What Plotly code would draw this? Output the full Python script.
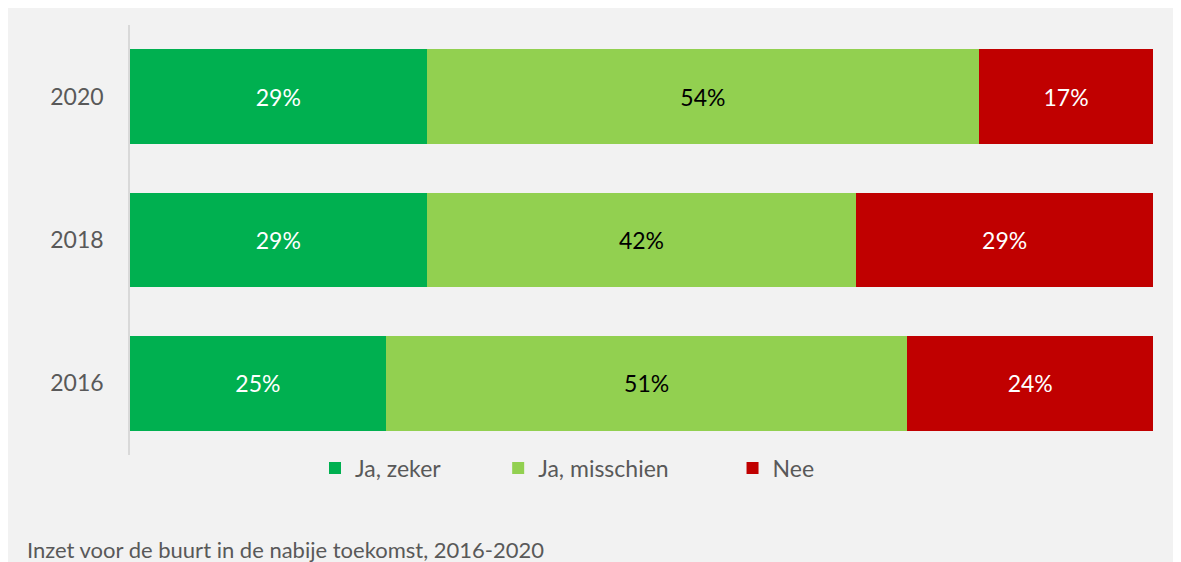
import plotly.graph_objects as go

years = ["2016", "2018", "2020"]
ja_zeker = [25, 29, 29]
ja_misschien = [51, 42, 54]
nee = [24, 29, 17]
series_names = ["Ja, zeker", "Ja, misschien", "Nee"]
legend_pad = [9, 10, 0]
colors = ["#00b050", "#92d050", "#c00000"]
text_colors = ["white", "black", "white"]

W, H = 1173, 554
ml, mr, mt, mb = 122, 28, 17, 107
pw, ph = W - ml - mr, H - mt - mb
FONT = "Lato"

fig = go.Figure()
for name, pad, vals, c, tc in zip(series_names, legend_pad, [ja_zeker, ja_misschien, nee], colors, text_colors):
    fig.add_trace(go.Bar(
        y=years, x=vals, name=name + "\u00a0" * pad, orientation="h",
        marker=dict(color=c, line=dict(width=0)),
        text=[f"{v}%" for v in vals], textposition="inside", insidetextanchor="middle",
        textfont=dict(color=tc, size=23, family=FONT),
        width=0.66, hoverinfo="skip",
    ))

def px_x(p):
    return (p - ml) / pw

def px_y(p):
    return (H - mb - p) / ph

fig.add_annotation(text="Inzet voor de buurt in de nabije toekomst, 2016-2020",
                   xref="paper", yref="paper", x=px_x(17), y=px_y(541),
                   xanchor="left", yanchor="middle", showarrow=False,
                   font=dict(size=22, color="#595959", family=FONT))

fig.update_layout(
    width=W, height=H, barmode="stack",
    margin=dict(l=ml, r=mr, t=mt, b=mb),
    paper_bgcolor="#f2f2f2", plot_bgcolor="rgba(0,0,0,0)",
    font=dict(family=FONT, color="#595959"),
    showlegend=True,
    legend=dict(orientation="h", x=px_x(307), xanchor="left", y=px_y(460), yanchor="middle",
                font=dict(size=23, color="#595959"), bgcolor="rgba(0,0,0,0)",
                traceorder="normal", itemwidth=30),
    xaxis=dict(range=[0, 100], visible=False, fixedrange=True),
    yaxis=dict(range=[-0.5, 2.5], showline=True, linecolor="#d9d9d9", linewidth=1.5,
               showgrid=False, zeroline=False, ticks="outside", ticklen=20,
               tickcolor="rgba(0,0,0,0)", tickfont=dict(size=23, color="#595959")),
    uniformtext=dict(mode=False),
)

fig.write_html("out.html")
